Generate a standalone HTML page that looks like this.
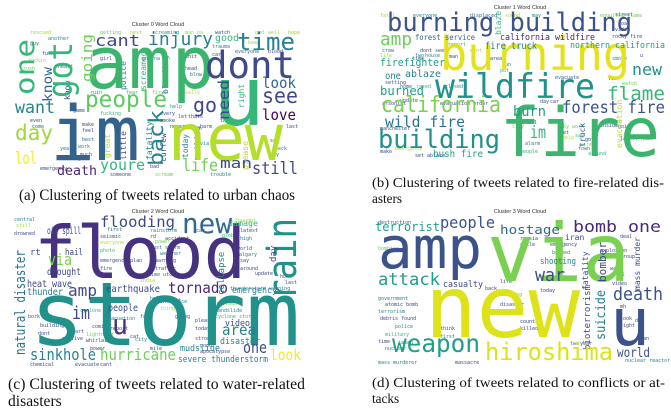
<!DOCTYPE html>
<html><head><meta charset="utf-8"><style>
html,body{margin:0;padding:0;background:#fff;}
svg{display:block;}
.w{font-family:"DejaVu Sans Mono","Liberation Mono",monospace;}
.t{font-family:"Liberation Sans",sans-serif;font-size:5.5px;fill:#333;}
.c{font-family:"Liberation Serif",serif;font-size:13.2px;fill:#111;}
.c2{font-family:"Liberation Serif",serif;font-size:15.6px;fill:#111;}
</style></head><body>
<svg width="671" height="413" viewBox="0 0 671 413">
<!-- Panel A -->
<g class="w">
<text class="t" x="158" y="26" text-anchor="middle">Cluster 0 Word Cloud</text>
<g font-size="5" fill="#9fd938">
<text x="30" y="34">rescued</text><text x="48" y="40" fill="#26828e">another</text><text x="100" y="34" fill="#6ece58">getting</text><text x="130" y="34">next</text><text x="152" y="34" fill="#1f9e89">screaming</text><text x="185" y="34">man na</text><text x="215" y="34" fill="#3e4989">watch</text><text x="255" y="34">god</text><text x="268" y="34">well</text><text x="288" y="34">hope</text>
<text x="30" y="45" fill="#31688e">guy</text><text x="42" y="55" fill="#3e4989">fuck</text><text x="28" y="62">fuckin</text><text x="20" y="70" fill="#6ece58">crush</text><text x="58" y="68" fill="#31688e">heart</text><text x="100" y="60" fill="#3e4989">girl</text><text x="100" y="67" fill="#35b779">made</text><text x="142" y="60" fill="#26828e">gon na</text><text x="185" y="58" fill="#3e4989">shit</text><text x="185" y="70" fill="#3e4989">head</text><text x="190" y="76" fill="#31688e">blow</text><text x="212" y="48" fill="#26828e">trauma</text><text x="212" y="56" fill="#3e4989">car</text><text x="235" y="53" fill="#31688e">everyone</text><text x="268" y="53" fill="#3e4989">blood</text><text x="248" y="44">keep</text>
<text x="90" y="94" fill="#26828e">ruin</text><text x="126" y="94" fill="#35b779">fear</text><text x="152" y="94" fill="#6ece58">first</text><text x="182" y="94" fill="#b5de2b">really</text><text x="30" y="122" fill="#3e4989">even</text><text x="32" y="128" fill="#31688e">come</text><text x="73" y="112" fill="#3e4989">game</text><text x="82" y="126" fill="#3e4989">make</text><text x="82" y="132" fill="#3e4989">feel</text><text x="82" y="141" fill="#31688e">best</text><text x="78" y="148" fill="#26828e">work</text><text x="80" y="156" fill="#3e4989">much</text><text x="60" y="150" fill="#26828e">year</text><text x="60" y="160" fill="#3e4989">destroy</text><text x="100" y="115" fill="#35b779">fucking</text><text x="160" y="115" fill="#3e4989">every</text><text x="160" y="122" fill="#3e4989">smoke</text><text x="170" y="108" fill="#1f9e89">help</text><text x="178" y="118" fill="#3e4989">let</text><text x="188" y="118" fill="#3e4989">thats</text><text x="170" y="128" fill="#3e4989">never</text><text x="200" y="128" fill="#3e4989">harm</text><text x="220" y="122" fill="#3e4989">thank</text><text x="200" y="145" fill="#26828e">via</text><text x="270" y="142" fill="#3e4989">say</text><text x="272" y="150" fill="#26828e">check</text><text x="270" y="156" fill="#31688e">way</text><text x="286" y="128" fill="#3e4989">last</text><text x="150" y="168" fill="#3e4989">bad</text><text x="110" y="176" fill="#3e4989">someone</text><text x="155" y="176" fill="#6ece58">scream</text><text x="210" y="176" fill="#26828e">trouble</text><text x="40" y="170" fill="#3e4989">emergency</text>
</g>
<g font-size="8">
<text transform="translate(126,90) rotate(-90)" fill="#26828e">police</text><text transform="translate(146,90) rotate(-90)" fill="#35b779">screamed</text><text transform="translate(168,94) rotate(-90)" fill="#26828e">bleeding</text><text transform="translate(244,108) rotate(-90)" fill="#35b779">right</text><text transform="translate(110,158) rotate(-90)" fill="#b5de2b">great</text><text transform="translate(126,160) rotate(-90)" fill="#3e4989">little</text><text transform="translate(152,160) rotate(-90)" fill="#26828e">fatality</text><text transform="translate(166,162) rotate(-90)" fill="#3e4989">curfew</text><text transform="translate(188,158) rotate(-90)" fill="#26828e">today</text><text transform="translate(200,150) rotate(-90)" fill="#3e4989">thing</text><text transform="translate(248,170) rotate(-90)" fill="#b5de2b">please</text><text transform="translate(70,100) rotate(-90)" fill="#3e4989">know</text>
</g>
<text x="85" y="88" font-size="72" fill="#3bb56e" textLength="130" lengthAdjust="spacingAndGlyphs">amp</text>
<text x="213" y="125" font-size="82" fill="#35b779" textLength="52" lengthAdjust="spacingAndGlyphs">u</text>
<text x="50" y="160" font-size="76" fill="#33638d" textLength="90" lengthAdjust="spacingAndGlyphs">im</text>
<text x="168" y="160" font-size="64" fill="#b5de2b" textLength="115" lengthAdjust="spacingAndGlyphs">new</text>
<text x="205" y="78" font-size="37" fill="#3e4a89" textLength="90" lengthAdjust="spacingAndGlyphs">dont</text>
<text x="237" y="50" font-size="24" fill="#26828e" textLength="58" lengthAdjust="spacingAndGlyphs">time</text>
<text x="85" y="107" font-size="23" fill="#5ec962" textLength="82" lengthAdjust="spacingAndGlyphs">people</text>
<text x="95" y="46" font-size="16" fill="#3e4989" textLength="45" lengthAdjust="spacingAndGlyphs">cant</text>
<text x="148" y="45" font-size="18" fill="#26828e" textLength="65" lengthAdjust="spacingAndGlyphs">injury</text>
<text x="262" y="103" font-size="21" fill="#3e4a89" textLength="36" lengthAdjust="spacingAndGlyphs">see</text>
<text x="262" y="120" font-size="15" fill="#440154" textLength="34" lengthAdjust="spacingAndGlyphs">love</text>
<text x="262" y="88" font-size="15" fill="#31688e" textLength="34" lengthAdjust="spacingAndGlyphs">look</text>
<text x="193" y="112" font-size="20" fill="#3e4989" textLength="24" lengthAdjust="spacingAndGlyphs">go</text>
<text x="15" y="140" font-size="21" fill="#9fd938" textLength="38" lengthAdjust="spacingAndGlyphs">day</text>
<text x="15" y="113" font-size="17" fill="#26828e" textLength="40" lengthAdjust="spacingAndGlyphs">want</text>
<text x="15" y="164" font-size="17" fill="#fde725" textLength="22" lengthAdjust="spacingAndGlyphs">lol</text>
<text x="252" y="174" font-size="17" fill="#3e4a89" textLength="46" lengthAdjust="spacingAndGlyphs">still</text>
<text x="182" y="171" font-size="17" fill="#6ece58" textLength="36" lengthAdjust="spacingAndGlyphs">life</text>
<text x="220" y="168" font-size="14" fill="#3e4989" textLength="32" lengthAdjust="spacingAndGlyphs">man</text>
<text x="57" y="175" font-size="13" fill="#482878" textLength="40" lengthAdjust="spacingAndGlyphs">death</text>
<text x="100" y="170" font-size="15" fill="#35b779" textLength="45" lengthAdjust="spacingAndGlyphs">youre</text>
<text transform="translate(34,95) rotate(-90)" font-size="27" fill="#35b779" textLength="56" lengthAdjust="spacingAndGlyphs">one</text>
<text transform="translate(72,98) rotate(-90)" font-size="34" fill="#35b779" textLength="56" lengthAdjust="spacingAndGlyphs">got</text>
<text transform="translate(92,82) rotate(-90)" font-size="14" fill="#6ece58" textLength="48" lengthAdjust="spacingAndGlyphs">going</text>
<text transform="translate(52,102) rotate(-90)" font-size="13" fill="#31688e" textLength="35" lengthAdjust="spacingAndGlyphs">know</text>
<text transform="translate(163,166) rotate(-90)" font-size="20" fill="#26828e" textLength="56" lengthAdjust="spacingAndGlyphs">back</text>
<text transform="translate(229,120) rotate(-90)" font-size="15" fill="#3e4989" textLength="40" lengthAdjust="spacingAndGlyphs">need</text>
<text x="215" y="41" font-size="10" fill="#35b779">good</text>
</g>
<text class="c2" x="19" y="200" textLength="276" lengthAdjust="spacingAndGlyphs">(a) Clustering of tweets related to urban chaos</text>

<!-- Panel B -->
<g class="w">
<text class="t" x="520" y="9" text-anchor="middle">Cluster 1 Word Cloud</text>
<g font-size="5" fill="#9fd938">
<text x="380" y="17">fatal</text><text x="413" y="17" fill="#26828e">everyone</text><text x="470" y="17" fill="#31688e">displaced</text><text x="505" y="17">sound</text><text x="532" y="17" fill="#26828e">may</text><text x="600" y="17" fill="#6ece58">engulfed flame</text>
<text x="382" y="52" fill="#31688e">crew</text><text x="380" y="57">life</text><text x="385" y="84" fill="#3e4989">setting</text><text x="420" y="52" fill="#3e4989">dont see</text><text x="448" y="46" fill="#35b779">report</text><text x="470" y="52">went</text><text x="415" y="57" fill="#26828e">two</text><text x="425" y="57" fill="#26828e">house</text><text x="449" y="58" fill="#3e4989">man</text><text x="412" y="60" fill="#3e4989">time</text><text x="400" y="88" fill="#31688e">home</text><text x="416" y="88" fill="#35b779">razed</text><text x="445" y="88" fill="#26828e">closed</text><text x="400" y="102" fill="#3e4989">update</text><text x="382" y="105" fill="#3e4989">arsonist</text><text x="440" y="105" fill="#3e4989">evacuation order</text><text x="380" y="130" fill="#3e4989">manchester</text><text x="380" y="153" fill="#3e4989">make</text><text x="395" y="150" fill="#b5de2b">emergency</text><text x="415" y="157" fill="#3e4989">set ablaze</text><text x="490" y="60" fill="#3e4989">area</text><text x="502" y="66" fill="#26828e">run</text><text x="500" y="72" fill="#35b779">put</text><text x="555" y="79" fill="#31688e">evacuate</text><text x="540" y="103" fill="#3e4989">day</text><text x="550" y="103" fill="#3e4989">car</text><text x="612" y="60" fill="#26828e">smoke</text><text x="608" y="80" fill="#26828e">via</text><text x="622" y="85" fill="#6ece58">watch</text><text x="640" y="57" fill="#3e4989">u</text><text x="615" y="16" fill="#31688e">street</text><text x="618" y="25" fill="#3e4989">road</text><text x="615" y="31" fill="#3e4989">video</text><text x="612" y="38" fill="#3e4989">rocky fire</text><text x="560" y="128" fill="#6ece58">sky work</text><text x="560" y="134" fill="#3e4989">set</text><text x="562" y="139" fill="#b5de2b">help</text><text x="575" y="137" fill="#35b779">say</text><text x="580" y="146">acre</text><text x="578" y="150" fill="#26828e">town</text><text x="588" y="155" fill="#35b779">around</text><text x="620" y="140" fill="#3e4989">latest home</text><text x="618" y="128" fill="#3e4989">going</text><text x="600" y="127" fill="#3e4989">inside</text><text x="585" y="141" fill="#3e4989">got</text><text x="565" y="155" fill="#6ece58">year</text><text x="520" y="153" fill="#35b779">people</text><text x="525" y="145" fill="#26828e">alarm</text><text x="522" y="124" fill="#3e4989">still</text><text x="512" y="128" fill="#6ece58">city</text>
</g>
<text x="387" y="31" font-size="26" fill="#3b528b" textLength="245" lengthAdjust="spacingAndGlyphs">burning building</text>
<text x="440" y="70" font-size="46" fill="#e4e31a" textLength="190" lengthAdjust="spacingAndGlyphs">burning</text>
<text x="435" y="98" font-size="34" fill="#21918c" textLength="160" lengthAdjust="spacingAndGlyphs">wildfire</text>
<text x="500" y="156" font-size="68" fill="#3bb56e" textLength="160" lengthAdjust="spacingAndGlyphs">fire</text>
<text x="381" y="112" font-size="22" fill="#7ad151" textLength="120" lengthAdjust="spacingAndGlyphs">california</text>
<text x="378" y="148" font-size="26" fill="#21918c" textLength="122" lengthAdjust="spacingAndGlyphs">building</text>
<text x="385" y="127" font-size="15" fill="#2c728e" textLength="80" lengthAdjust="spacingAndGlyphs">wild fire</text>
<text x="562" y="113" font-size="17" fill="#3b528b" textLength="103" lengthAdjust="spacingAndGlyphs">forest fire</text>
<text x="607" y="100" font-size="19" fill="#35b779" textLength="58" lengthAdjust="spacingAndGlyphs">flame</text>
<text x="632" y="75" font-size="16" fill="#21918c" textLength="30" lengthAdjust="spacingAndGlyphs">new</text>
<text x="380" y="45" font-size="18" fill="#6ece58" textLength="32" lengthAdjust="spacingAndGlyphs">amp</text>
<text x="380" y="66" font-size="11" fill="#1f9e89" textLength="65" lengthAdjust="spacingAndGlyphs">firefighter</text>
<text x="530" y="138" font-size="17" fill="#35b779" textLength="16" lengthAdjust="spacingAndGlyphs">im</text>
<text x="513" y="116" font-size="14" fill="#1f9e89" textLength="33" lengthAdjust="spacingAndGlyphs">burn</text>
<text x="433" y="157" font-size="10" fill="#1f9e89" textLength="50" lengthAdjust="spacingAndGlyphs">bush fire</text>
<text x="485" y="49" font-size="10" fill="#26828e" textLength="52" lengthAdjust="spacingAndGlyphs">fire truck</text>
<text x="570" y="48" font-size="9" fill="#1f9e89" textLength="95" lengthAdjust="spacingAndGlyphs">northern california</text>
<text x="415" y="40" font-size="8" fill="#31688e" textLength="60" lengthAdjust="spacingAndGlyphs">forest service</text>
<text x="500" y="40" font-size="9" fill="#482878" textLength="95" lengthAdjust="spacingAndGlyphs">california wildfire</text>
<text x="380" y="95" font-size="12" fill="#1f9e89" textLength="44" lengthAdjust="spacingAndGlyphs">burned</text>
<text x="405" y="77" font-size="10" fill="#26828e" textLength="36" lengthAdjust="spacingAndGlyphs">ablaze</text>
<text x="385" y="79" font-size="10" fill="#26828e" textLength="16" lengthAdjust="spacingAndGlyphs">one</text>
<text transform="translate(501,35) rotate(-90)" font-size="8" fill="#35b779">blaze</text>
<text transform="translate(585,147) rotate(-90)" font-size="8" fill="#31688e">truck</text>
<text transform="translate(622,148) rotate(-90)" font-size="8" fill="#b5de2b">evacuation</text>
</g>
<text class="c" x="372" y="187" textLength="292" lengthAdjust="spacingAndGlyphs">(b) Clustering of tweets related to fire-related dis-</text>
<text class="c" x="372" y="203">asters</text>

<!-- Panel C -->
<g class="w">
<text class="t" x="158" y="213" text-anchor="middle">Cluster 2 Word Cloud</text>
<g font-size="5" fill="#9fd938">
<text x="14" y="221" fill="#26828e">central</text><text x="16" y="227">still</text><text x="14" y="235" fill="#3e4989">drowned</text><text x="100" y="238" fill="#3e4989">seismic</text><text x="100" y="244" fill="#b5de2b">everyone</text><text x="107" y="231" fill="#31688e">first</text><text x="150" y="232" fill="#26828e">rainstorm</text><text x="100" y="252" fill="#35b779">photo</text><text x="100" y="262" fill="#3e4989">emergency plan</text><text x="100" y="270" fill="#3e4989">fire</text><text x="150" y="238" fill="#3e4989">rd</text><text x="155" y="243" fill="#6ece58">power</text><text x="150" y="249" fill="#31688e">dust storm</text><text x="160" y="255" fill="#26828e">weather</text><text x="155" y="262" fill="#3e4989">warning</text><text x="155" y="270" fill="#3e4989">traffic</text><text x="148" y="276" fill="#31688e">time utc</text><text x="140" y="282">india</text><text x="150" y="300" fill="#26828e">help</text><text x="196" y="232" fill="#3e4989">car</text><text x="165" y="240" fill="#3e4989">accident</text><text x="235" y="222">thought</text><text x="240" y="232" fill="#3e4989">latest</text><text x="240" y="240" fill="#26828e">high</text><text x="222" y="237" fill="#35b779">globo</text><text x="237" y="250" fill="#3e4989">world</text><text x="236" y="256" fill="#26828e">calgary</text><text x="240" y="262" fill="#3e4989">say</text><text x="240" y="270" fill="#3e4989">around</text><text x="255" y="275" fill="#3e4989">update</text><text x="280" y="278" fill="#3e4989">home</text><text x="285" y="284" fill="#3e4989">last</text><text x="230" y="290" fill="#26828e">thunderstorm warning</text><text x="210" y="305" fill="#6ece58">derailment</text><text x="215" y="312" fill="#26828e">landslide</text><text x="215" y="318" fill="#35b779">cyclone storm</text><text x="195" y="322" fill="#3e4989">please</text><text x="195" y="330" fill="#3e4989">today</text><text x="195" y="340" fill="#3e4989">strong</text><text x="200" y="347" fill="#3e4989">good</text><text x="200" y="353" fill="#3e4989">apocalypse</text><text x="28" y="318" fill="#3e4989">bork</text><text x="40" y="327" fill="#3e4989">building</text><text x="38" y="335" fill="#3e4989">dont</text><text x="62" y="340" fill="#3e4989">survive</text><text x="72" y="333" fill="#3e4989">part</text><text x="86" y="336" fill="#6ece58">lightning</text><text x="86" y="342" fill="#3e4989">whirlaied</text><text x="90" y="350" fill="#3e4989">power</text><text x="80" y="312" fill="#35b779">cyclone</text><text x="105" y="320" fill="#26828e">evacuation</text><text x="92" y="328" fill="#3e4989">coming</text><text x="30" y="366" fill="#3e4989">chemical</text><text x="75" y="366" fill="#3e4989">evacuate</text><text x="100" y="366" fill="#3e4989">cant</text><text x="135" y="341" fill="#26828e">city</text><text x="150" y="350" fill="#3e4989">mile</text><text x="140" y="318" fill="#3e4989">fall</text><text x="110" y="330" fill="#3e4989">report</text><text x="130" y="338" fill="#3e4989">cat</text><text x="175" y="318" fill="#3e4989">going</text><text x="160" y="310" fill="#b5de2b">thing</text><text x="172" y="302" fill="#3e4989">got</text><text x="160" y="303" fill="#26828e">insurance</text>
</g>
<text x="34" y="278" font-size="72" fill="#46327e" textLength="212" lengthAdjust="spacingAndGlyphs">flood</text>
<text x="30" y="345" font-size="88" fill="#21918c" textLength="270" lengthAdjust="spacingAndGlyphs">storm</text>
<text x="182" y="233" font-size="28" fill="#31688e" textLength="50" lengthAdjust="spacingAndGlyphs">new</text>
<text transform="translate(296,300) rotate(-90)" font-size="40" fill="#21918c" textLength="82" lengthAdjust="spacingAndGlyphs">rain</text>
<text transform="translate(25,355) rotate(-90)" font-size="14" fill="#2c728e" textLength="105" lengthAdjust="spacingAndGlyphs">natural disaster</text>
<text x="100" y="227" font-size="15" fill="#3e4989" textLength="75" lengthAdjust="spacingAndGlyphs">flooding</text>
<text x="168" y="293" font-size="15" fill="#482878" textLength="60" lengthAdjust="spacingAndGlyphs">tornado</text>
<text x="30" y="360" font-size="16" fill="#26828e" textLength="66" lengthAdjust="spacingAndGlyphs">sinkhole</text>
<text x="100" y="360" font-size="16" fill="#6ece58" textLength="76" lengthAdjust="spacingAndGlyphs">hurricane</text>
<text x="270" y="360" font-size="15" fill="#fde725" textLength="31" lengthAdjust="spacingAndGlyphs">look</text>
<text x="243" y="353" font-size="16" fill="#3e4989" textLength="24" lengthAdjust="spacingAndGlyphs">one</text>
<text x="222" y="335" font-size="15" fill="#26828e" textLength="34" lengthAdjust="spacingAndGlyphs">area</text>
<text x="68" y="296" font-size="16" fill="#3e4989" textLength="29" lengthAdjust="spacingAndGlyphs">amp</text>
<text x="72" y="319" font-size="18" fill="#3e4989" textLength="18" lengthAdjust="spacingAndGlyphs">im</text>
<text x="112" y="334" font-size="28" fill="#46327e" textLength="16" lengthAdjust="spacingAndGlyphs">u</text>
<text x="48" y="265" font-size="16" fill="#7ad151" textLength="24" lengthAdjust="spacingAndGlyphs">via</text>
<text x="47" y="275" font-size="10" fill="#3e4989" textLength="34" lengthAdjust="spacingAndGlyphs">drought</text>
<text x="106" y="292" font-size="10" fill="#3e4989" textLength="54" lengthAdjust="spacingAndGlyphs">earthquake</text>
<text x="108" y="311" font-size="10" fill="#3e4989" textLength="30" lengthAdjust="spacingAndGlyphs">people</text>
<text x="27" y="287" font-size="10" fill="#3e4989" textLength="45" lengthAdjust="spacingAndGlyphs">heat wave</text>
<text x="27" y="295" font-size="10" fill="#26828e" textLength="36" lengthAdjust="spacingAndGlyphs">thunder</text>
<text x="47" y="234" font-size="10" fill="#3e4989" textLength="34" lengthAdjust="spacingAndGlyphs">oil spill</text>
<text x="65" y="255" font-size="9" fill="#3e4989" textLength="18" lengthAdjust="spacingAndGlyphs">hail</text>
<text x="30" y="255" font-size="9" fill="#3e4989">rt</text>
<text x="180" y="351" font-size="9" fill="#26828e" textLength="40" lengthAdjust="spacingAndGlyphs">mudslide</text>
<text x="178" y="362" font-size="9" fill="#26828e" textLength="90" lengthAdjust="spacingAndGlyphs">severe thunderstorm</text>
<text x="220" y="344" font-size="9" fill="#26828e" textLength="40" lengthAdjust="spacingAndGlyphs">disaster</text>
<text x="225" y="326" font-size="9" fill="#3e4989" textLength="25" lengthAdjust="spacingAndGlyphs">video</text>
<text x="232" y="293" font-size="9" fill="#26828e" textLength="45" lengthAdjust="spacingAndGlyphs">emergency</text>
<text x="228" y="226" font-size="8" fill="#35b779" textLength="30" lengthAdjust="spacingAndGlyphs">damage</text>
<text transform="translate(224,295) rotate(-90)" font-size="9" fill="#26828e">collapse</text>
<text transform="translate(276,262) rotate(-90)" font-size="9" fill="#3e4989">day</text>
</g>
<text class="c2" x="8" y="389" textLength="297" lengthAdjust="spacingAndGlyphs">(c) Clustering of tweets related to water-related</text>
<text class="c2" x="8" y="406">disasters</text>

<!-- Panel D -->
<g class="w">
<text class="t" x="520" y="213" text-anchor="middle">Cluster 3 Word Cloud</text>
<g font-size="5" fill="#9fd938">
<text x="378" y="224" fill="#3e4989">destruction</text><text x="378" y="250" fill="#6ece58">bombing</text><text x="520" y="240" fill="#3e4989">russia</text><text x="520" y="246" fill="#3e4989">chile</text><text x="550" y="246" fill="#3e4989">emergency</text><text x="552" y="254" fill="#26828e">bombed</text><text x="600" y="252" fill="#3e4989">explosion</text><text x="620" y="238" fill="#3e4989">deal</text><text x="620" y="258" fill="#3e4989">group</text><text x="610" y="270" fill="#3e4989">want</text><text x="610" y="276" fill="#3e4989">still</text><text x="460" y="268" fill="#3e4989">isi</text><text x="500" y="283" fill="#3e4989">life</text><text x="485" y="290" fill="#3e4989">back</text><text x="498" y="296" fill="#6ece58">building</text><text x="540" y="292" fill="#3e4989">today</text><text x="378" y="300" fill="#26828e">government</text><text x="385" y="306" fill="#3e4989">atomic bomb</text><text x="378" y="313" fill="#26828e">terrorism</text><text x="380" y="320" fill="#3e4989">debris found</text><text x="395" y="328" fill="#26828e">police</text><text x="385" y="336" fill="#35b779">military</text><text x="378" y="343" fill="#3e4989">time</text><text x="398" y="344" fill="#26828e">japan</text><text x="385" y="350" fill="#26828e">nuclear</text><text x="378" y="364" fill="#26828e">mass murderer</text><text x="455" y="364" fill="#3e4989">massacre</text><text x="440" y="330" fill="#3e4989">think</text><text x="440" y="338" fill="#26828e">first</text><text x="520" y="323" fill="#3e4989">country</text><text x="520" y="330" fill="#3e4989">killed</text><text x="500" y="306" fill="#3e4989">disaster</text><text x="620" y="320" fill="#3e4989">look</text><text x="620" y="327" fill="#3e4989">right</text><text x="635" y="322" fill="#3e4989">day</text><text x="625" y="362" fill="#26828e">nuclear reactor</text><text x="640" y="340" fill="#3e4989">man</text><text x="570" y="345" fill="#26828e">two</text><text x="580" y="345" fill="#3e4989">year</text><text x="620" y="308" fill="#3e4989">mh</text><text x="612" y="285" fill="#3e4989">video</text>
</g>
<text transform="translate(590,350) rotate(-90)" font-size="9" fill="#3e4989">bioterrorism</text>
<text x="378" y="268" font-size="58" fill="#3b528b" textLength="104" lengthAdjust="spacingAndGlyphs">amp</text>
<text x="487" y="281" font-size="80" fill="#7ad151" textLength="143" lengthAdjust="spacingAndGlyphs">via</text>
<text x="425" y="337" font-size="86" fill="#dde318" textLength="155" lengthAdjust="spacingAndGlyphs">new</text>
<text x="610" y="345" font-size="66" fill="#3b528b" textLength="40" lengthAdjust="spacingAndGlyphs">u</text>
<text x="392" y="352" font-size="25" fill="#1f9e89" textLength="88" lengthAdjust="spacingAndGlyphs">weapon</text>
<text x="485" y="360" font-size="24" fill="#dde318" textLength="128" lengthAdjust="spacingAndGlyphs">hiroshima</text>
<text x="378" y="285" font-size="17" fill="#1f9e89" textLength="62" lengthAdjust="spacingAndGlyphs">attack</text>
<text x="613" y="300" font-size="18" fill="#3b528b" textLength="50" lengthAdjust="spacingAndGlyphs">death</text>
<text x="440" y="228" font-size="16" fill="#3b528b" textLength="55" lengthAdjust="spacingAndGlyphs">people</text>
<text x="375" y="231" font-size="12" fill="#1f9e89" textLength="65" lengthAdjust="spacingAndGlyphs">terrorist</text>
<text x="500" y="234" font-size="12" fill="#31688e" textLength="60" lengthAdjust="spacingAndGlyphs">hostage</text>
<text x="573" y="232" font-size="16" fill="#482878" textLength="88" lengthAdjust="spacingAndGlyphs">bomb one</text>
<text x="535" y="281" font-size="18" fill="#3e4989" textLength="30" lengthAdjust="spacingAndGlyphs">war</text>
<text x="617" y="357" font-size="13" fill="#3b528b" textLength="33" lengthAdjust="spacingAndGlyphs">world</text>
<text x="540" y="264" font-size="9" fill="#26828e" textLength="36" lengthAdjust="spacingAndGlyphs">shooting</text>
<text x="443" y="287" font-size="9" fill="#3e4989" textLength="40" lengthAdjust="spacingAndGlyphs">casualty</text>
<text transform="translate(605,340) rotate(-90)" font-size="13" fill="#26828e" textLength="50" lengthAdjust="spacingAndGlyphs">suicide</text>
<text transform="translate(606,282) rotate(-90)" font-size="11" fill="#3e4989" textLength="40" lengthAdjust="spacingAndGlyphs">bomber</text>
<text transform="translate(588,290) rotate(-90)" font-size="8" fill="#3e4989">fatality</text>
<text transform="translate(640,290) rotate(-90)" font-size="8" fill="#3e4989">mass murder</text>
<text x="565" y="240" font-size="8" fill="#3e4989">iran</text>
</g>
<text class="c" x="372" y="387" textLength="293" lengthAdjust="spacingAndGlyphs">(d) Clustering of tweets related to conflicts or at-</text>
<text class="c" x="372" y="403">tacks</text>
</svg>
</body></html>
